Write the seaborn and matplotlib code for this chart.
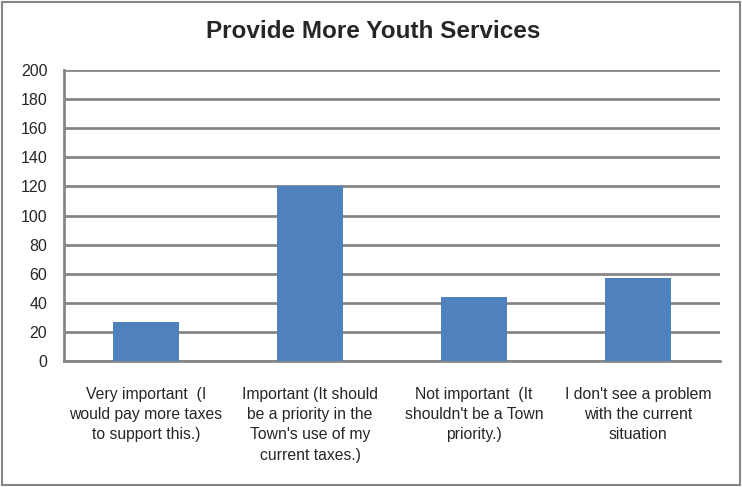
import matplotlib
matplotlib.use("Agg")
import matplotlib.pyplot as plt
import seaborn as sns
import pandas as pd
from matplotlib.patches import Rectangle

categories = [
    "Very important  (I\nwould pay more taxes\nto support this.)",
    "Important (It should\nbe a priority in the\nTown's use of my\ncurrent taxes.)",
    "Not important  (It\nshouldn't be a Town\npriority.)",
    "I don't see a problem\nwith the current\nsituation",
]
values = [27, 120, 44, 57]
yticks = list(range(0, 201, 20))
title = "Provide More Youth Services"

sns.set_theme(style="white")
plt.rcParams['font.family'] = ['Liberation Sans', 'DejaVu Sans']

df = pd.DataFrame({"cat": categories, "val": values})

fig = plt.figure(figsize=(7.42, 4.87), dpi=100)
ax = fig.add_axes([64/742, 1 - 361/487, 656/742, 291/487])

sns.barplot(data=df, x="cat", y="val", color="#4F81BD", width=0.40,
            saturation=1, linewidth=0, ax=ax, zorder=3)

ax.set_ylim(0, 200)
ax.set_xlim(-0.5, 3.5)
ax.set_yticks(yticks)
ax.set_yticklabels([str(t) for t in yticks], fontsize=11.5)
ax.tick_params(axis='y', length=0, pad=12)
ax.tick_params(axis='x', length=0, pad=19, labelsize=11.3)
for lab in ax.get_xticklabels():
    lab.set_linespacing(1.42)
ax.set_xlabel("")
ax.set_ylabel("")
ax.yaxis.grid(True, color="#868686", linewidth=2, zorder=0)
ax.set_axisbelow(True)
for s in ["top", "right"]:
    ax.spines[s].set_visible(False)
ax.spines["left"].set_color("#868686")
ax.spines["left"].set_linewidth(2)
ax.spines["bottom"].set_color("#868686")
ax.spines["bottom"].set_linewidth(2)

fig.text(373/742, 1 - 32/487, title, ha="center", va="center",
         fontsize=17.5, fontweight="bold")

fig.patches.append(Rectangle((2/742, 2/487), 738/742, 483/487, transform=fig.transFigure,
                             fill=False, edgecolor="#868686", linewidth=1.5))

fig.savefig("out.png", dpi=100)
